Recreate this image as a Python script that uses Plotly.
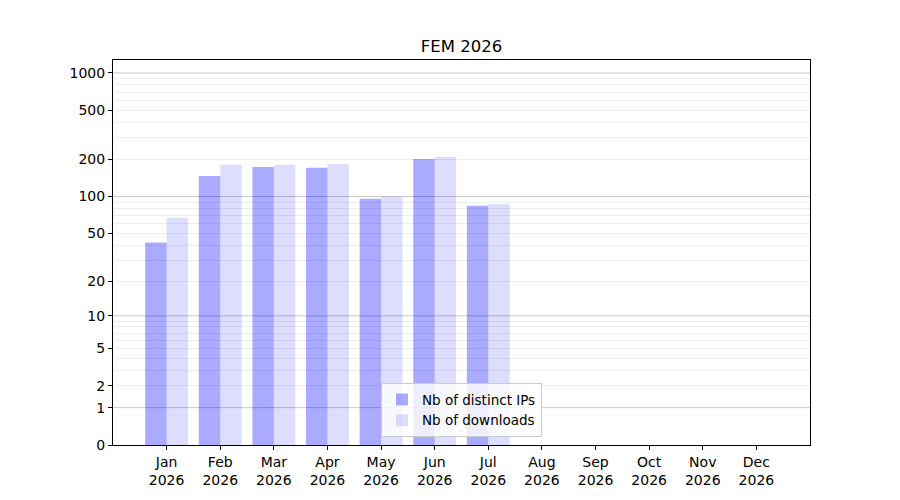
import plotly.graph_objects as go

# monthly data
months = ['Jan', 'Feb', 'Mar', 'Apr', 'May', 'Jun', 'Jul', 'Aug', 'Sep', 'Oct', 'Nov', 'Dec']
year = '2026'
distinct_ips = [42, 147, 174, 171, 96, 202, 84, 0, 0, 0, 0, 0]
downloads = [67, 181, 181, 184, 100, 210, 87, 0, 0, 0, 0, 0]

# y axis shows log10(1 + v): ticks are labelled with v
y_ticks = [0, 1, 2, 5, 10, 20, 50, 100, 200, 500, 1000]
major_grid = [1, 10, 100, 1000]
minor_grid = [m * 10 ** d for d in range(3) for m in range(2, 10)]

labels = [f'{m}<br>{year}' for m in months]
x = list(range(len(months)))

fig = go.Figure()
fig.add_trace(go.Bar(
    x=x, y=distinct_ips, base=1, name='Nb of distinct IPs',
    marker=dict(color='rgba(0,0,255,0.333)', line_width=0),
    offset=-0.4, width=0.4,
))
fig.add_trace(go.Bar(
    x=x, y=downloads, base=1, name='Nb of downloads',
    marker=dict(color='rgba(0,0,255,0.133)', line_width=0),
    offset=0.0, width=0.4,
))

for v in major_grid:
    fig.add_hline(y=v + 1, line=dict(color='rgba(0,0,0,0.22)', width=1), layer='below')

# the page body adds an 8px offset, margins compensate for it
fig.update_layout(
    width=900, height=500,
    paper_bgcolor='white', plot_bgcolor='white',
    margin=dict(l=105, r=98, t=52, b=63),
    font=dict(family='DejaVu Sans', size=14, color='black'),
    title=dict(text='FEM 2026', x=0.5, xref='paper', xanchor='center',
               y=0.924, yanchor='middle', font=dict(size=16.5)),
    barmode='overlay',
    showlegend=True,
    legend=dict(
        x=0.5, xanchor='center', y=0.02, yanchor='bottom',
        bgcolor='rgba(255,255,255,0.8)', bordercolor='#cccccc', borderwidth=1,
        font=dict(size=13.5), tracegroupgap=0,
    ),
)

fig.update_xaxes(
    range=[-1, 12], tickvals=x, ticktext=labels,
    showgrid=False, zeroline=False,
    showline=True, linecolor='black', linewidth=1, mirror=True,
    ticks='outside', ticklen=4, tickcolor='black',
)
fig.update_yaxes(
    type='log', range=[0, 3.105],
    tickvals=[v + 1 for v in y_ticks], ticktext=[str(v) for v in y_ticks],
    showgrid=False, zeroline=False,
    showline=True, linecolor='black', linewidth=1, mirror=True,
    ticks='outside', ticklen=4, tickcolor='black',
    minor=dict(tickvals=[v + 1 for v in minor_grid], showgrid=True,
               gridcolor='rgba(0,0,0,0.07)', gridwidth=1, ticks=''),
)

fig.write_html('out.html')
